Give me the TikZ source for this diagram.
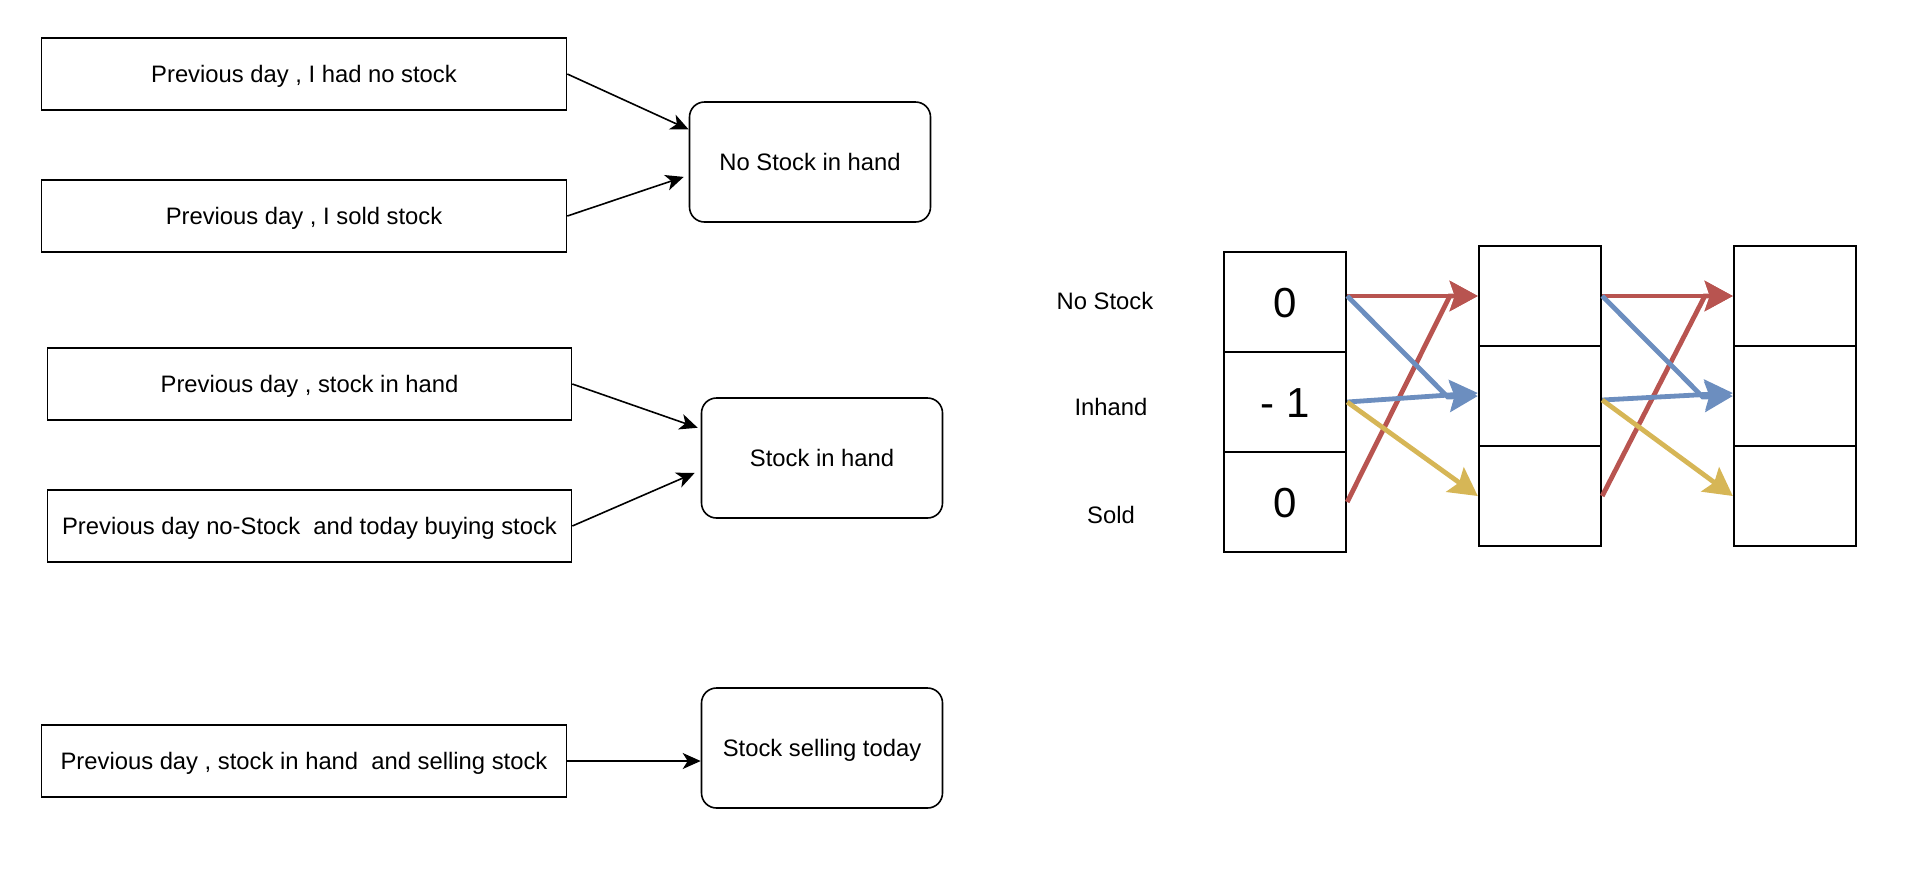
\documentclass[tikz,border=0pt]{standalone}
\usepackage{fontspec}
\setmainfont{Liberation Sans}
\usetikzlibrary{arrows.meta}
\definecolor{myred}{HTML}{B85450}
\definecolor{myblue}{HTML}{6C8EBF}
\definecolor{myyellow}{HTML}{D6B656}
\begin{document}
\begin{tikzpicture}[x=0.5pt,y=-0.5pt,
  txt/.style={font=\fontsize{11.9}{14}\selectfont, text height=8.52pt, text depth=0pt},
  lbox/.style={draw, line width=0.8pt, inner sep=0pt, minimum height=36pt, minimum width=262.5pt, txt},
  rbox/.style={draw, rounded corners=7.5pt, line width=0.8pt, inner sep=0pt, minimum width=120.5pt, minimum height=60pt, txt},
  cell/.style={draw, line width=1.2pt, inner sep=0pt, minimum width=61pt, minimum height=50pt, font=\fontsize{21}{24}\selectfont, text height=15.04pt, text depth=0pt},
  lab/.style={inner sep=0pt, txt},
  blk/.style={-{Stealth[length=9pt,width=8pt,inset=2.5pt]}, line width=0.8pt},
  col/.style={-{Stealth[length=14pt,width=15pt,inset=2.5pt]}, line width=2.4pt}]
\useasboundingbox (0,0) rectangle (1910,874);

% left boxes
\node[lbox] (b1) at (304,74) {Previous day , I had no stock};
\node[lbox] (b2) at (304,216) {Previous day , I sold stock};
\node[rbox] (n1) at (810,162) {No Stock in hand};
\node[lbox, minimum width=262pt] (b3) at (309.5,384) {Previous day , stock in hand};
\node[lbox, minimum width=262pt] (b4) at (309.5,526) {Previous day no-Stock~ and today buying stock};
\node[rbox] (n2) at (822,458) {Stock in hand};
\node[lbox] (b5) at (304,761) {Previous day , stock in hand~ and selling stock};
\node[rbox] (n3) at (822,748) {Stock selling today};

\draw[blk] (b1.east) -- (n1.165);
\draw[blk] (b2.east) -- ([xshift=-2.5pt]n1.187);
\draw[blk] (b3.east) -- ([xshift=-1.5pt]n2.166);
\draw[blk] (b4.east) -- ([xshift=-3pt]n2.187);
\draw[blk] (b5.east) -- (n3.west |- b5.east);

% right grid
\node[lab] (l1) at (1105,301) {No Stock};
\node[lab] (l2) at (1111,407) {Inhand};
\node[lab] (l3) at (1111,515) {Sold};

\node[cell] (c1r1) at (1285,302) {0};
\node[cell] (c1r2) at (1285,402) {- 1};
\node[cell] (c1r3) at (1285,502) {0};
\node[cell] (c2r1) at (1540,296) {};
\node[cell] (c2r2) at (1540,396) {};
\node[cell] (c2r3) at (1540,496) {};
\node[cell] (c3r1) at (1795,296) {};
\node[cell] (c3r2) at (1795,396) {};
\node[cell] (c3r3) at (1795,496) {};

% first transition
\draw[col, myred] (c1r1.east |- c2r1.west) -- (c2r1.west);
\draw[col, myred] (c1r3.east) -- ([xshift=-14pt]c2r1.west) -- (c2r1.west);
\draw[col, myblue] (c1r1.east |- c2r1.west) -- ([xshift=-15pt,yshift=-0.5pt]c2r2.west) -- (c2r2.west);
\draw[col, myblue] (c1r2.east) -- ([yshift=1.5pt]c2r2.west);
\draw[col, myyellow] (c1r2.east) -- (c2r3.west);

% second transition
\draw[col, myred] (c2r1.east) -- (c3r1.west);
\draw[col, myred] (c2r3.east) -- ([xshift=-14pt]c3r1.west) -- (c3r1.west);
\draw[col, myblue] (c2r1.east) -- ([xshift=-15pt,yshift=-0.5pt]c3r2.west) -- (c3r2.west);
\draw[col, myblue] ([yshift=-2pt]c2r2.east) -- ([yshift=1.5pt]c3r2.west);
\draw[col, myyellow] ([yshift=-2pt]c2r2.east) -- (c3r3.west);
\end{tikzpicture}
\end{document}
